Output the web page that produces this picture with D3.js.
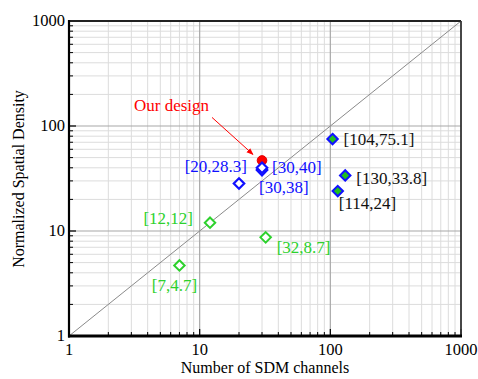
<!DOCTYPE html>
<html>
<head>
<meta charset="utf-8">
<script src="https://cdn.jsdelivr.net/npm/d3@7"></script>
<style>
  html, body { margin: 0; padding: 0; background: #fff; }
  svg { display: block; }
</style>
</head>
<body>
<svg id="chart" width="478" height="379" font-family="'Liberation Serif', 'Times New Roman', Times, 'DejaVu Serif', serif"></svg>
<script>
// Channel count (x) and normalized spatial density (y) for each design group
const openGreenX = [7, 12, 32];
const openGreenY = [4.7, 12, 8.7];
const openBlueX = [20, 30, 30];
const openBlueY = [28.3, 38, 40];
const filledX = [104, 130, 114];
const filledY = [75.1, 33.8, 24];
const oursX = [30];
const oursY = [47];
const oursLabel = "Our design";
const majorTicks = [1, 10, 100, 1000];
const xTitle = "Number of SDM channels";
const yTitle = "Normalized Spatial Density";

const svg = d3.select("#chart");
const plot = { left: 69, right: 461, top: 21, bottom: 336 };

const x = d3.scaleLog().domain([1, 1000]).range([plot.left, plot.right]);
const y = d3.scaleLog().domain([1, 1000]).range([plot.bottom, plot.top]);

// minor values 2..9 within each decade
const minors = [];
[1, 10, 100].forEach(d => { for (let k = 2; k <= 9; k++) minors.push(d * k); });

const grid = svg.append("g");
grid.selectAll("line.vmin").data(minors).join("line")
  .attr("x1", d => x(d)).attr("x2", d => x(d))
  .attr("y1", plot.top).attr("y2", plot.bottom)
  .attr("stroke", "#dcdcdc").attr("stroke-width", 1);
grid.selectAll("line.hmin").data(minors).join("line")
  .attr("y1", d => y(d)).attr("y2", d => y(d))
  .attr("x1", plot.left).attr("x2", plot.right)
  .attr("stroke", "#dcdcdc").attr("stroke-width", 1);
const inner = [10, 100];
grid.selectAll("line.vmaj").data(inner).join("line")
  .attr("x1", d => x(d)).attr("x2", d => x(d))
  .attr("y1", plot.top).attr("y2", plot.bottom)
  .attr("stroke", "#a8a8a8").attr("stroke-width", 1.2);
grid.selectAll("line.hmaj").data(inner).join("line")
  .attr("y1", d => y(d)).attr("y2", d => y(d))
  .attr("x1", plot.left).attr("x2", plot.right)
  .attr("stroke", "#a8a8a8").attr("stroke-width", 1.2);

// y = x reference line
svg.append("line")
  .attr("x1", x(1)).attr("y1", y(1))
  .attr("x2", x(1000)).attr("y2", y(1000))
  .attr("stroke", "#8a8a8a").attr("stroke-width", 1);

// inward ticks on the bottom and left axes
const ticks = svg.append("g");
ticks.selectAll("line.bt").data(minors).join("line")
  .attr("x1", d => x(d)).attr("x2", d => x(d))
  .attr("y1", plot.bottom).attr("y2", plot.bottom - 4)
  .attr("stroke", "#000").attr("stroke-width", 1);
ticks.selectAll("line.lt").data(minors).join("line")
  .attr("y1", d => y(d)).attr("y2", d => y(d))
  .attr("x1", plot.left).attr("x2", plot.left + 4)
  .attr("stroke", "#000").attr("stroke-width", 1);
ticks.selectAll("line.btM").data(majorTicks).join("line")
  .attr("x1", d => x(d)).attr("x2", d => x(d))
  .attr("y1", plot.bottom).attr("y2", plot.bottom - 7)
  .attr("stroke", "#000").attr("stroke-width", 1.2);
ticks.selectAll("line.ltM").data(majorTicks).join("line")
  .attr("y1", d => y(d)).attr("y2", d => y(d))
  .attr("x1", plot.left).attr("x2", plot.left + 7)
  .attr("stroke", "#000").attr("stroke-width", 1.2);

// frame
svg.append("line").attr("x1", plot.left).attr("x2", plot.right)
  .attr("y1", plot.top).attr("y2", plot.top)
  .attr("stroke", "#222").attr("stroke-width", 2);
svg.append("line").attr("x1", plot.right).attr("x2", plot.right)
  .attr("y1", plot.top).attr("y2", plot.bottom)
  .attr("stroke", "#333").attr("stroke-width", 1.8);
svg.append("line").attr("x1", plot.left).attr("x2", plot.left)
  .attr("y1", plot.top - 1).attr("y2", plot.bottom + 1.5)
  .attr("stroke", "#000").attr("stroke-width", 2.2);
svg.append("line").attr("x1", plot.left - 1).attr("x2", plot.right + 1)
  .attr("y1", plot.bottom).attr("y2", plot.bottom)
  .attr("stroke", "#000").attr("stroke-width", 3);

// tick labels
const fmt = d => String(d);
svg.selectAll("text.xl").data(majorTicks).join("text")
  .attr("x", d => x(d)).attr("y", plot.bottom + 19)
  .attr("text-anchor", "middle").attr("font-size", 16.5)
  .attr("fill", "#000").text(fmt);
svg.selectAll("text.yl").data(majorTicks).join("text")
  .attr("x", plot.left - 4).attr("y", d => y(d))
  .attr("dy", "0.33em")
  .attr("text-anchor", "end").attr("font-size", 16.5)
  .attr("fill", "#000").text(fmt);

// axis titles
svg.append("text")
  .attr("x", 265).attr("y", 373)
  .attr("text-anchor", "middle").attr("font-size", 16)
  .attr("fill", "#000").text(xTitle);
svg.append("text")
  .attr("transform", "translate(24,179) rotate(-90)")
  .attr("text-anchor", "middle").attr("font-size", 16)
  .attr("fill", "#000").text(yTitle);

// diamond marker
const diamond = d3.symbol().type(d3.symbolDiamond2).size(70);
const pts = (xs, ys) => xs.map((v, i) => ({ x: v, y: ys[i] }));
const lbl = d => `[${d.x},${d.y}]`;

// our design marker
const ours = pts(oursX, oursY);
svg.selectAll("circle.ours").data(ours).join("circle")
  .attr("cx", d => x(d.x)).attr("cy", d => y(d.y)).attr("r", 4.8)
  .attr("fill", "#ff0000").attr("stroke", "#e00000").attr("stroke-width", 1);

// green open diamonds
const gOpen = pts(openGreenX, openGreenY);
const gOff = [
  { dx: -5, dy: 20, a: "middle" },
  { dx: -17, dy: -4, a: "end" },
  { dx: 11, dy: 10, a: "start" }
];
svg.selectAll("path.go").data(gOpen).join("path")
  .attr("d", diamond)
  .attr("transform", d => `translate(${x(d.x)},${y(d.y)})`)
  .attr("fill", "#fff").attr("stroke", "#2dd12d").attr("stroke-width", 2);
svg.selectAll("text.go").data(gOpen).join("text")
  .attr("x", (d, i) => x(d.x) + gOff[i].dx)
  .attr("y", (d, i) => y(d.y) + gOff[i].dy)
  .attr("dy", "0.33em").attr("text-anchor", (d, i) => gOff[i].a)
  .attr("font-size", 17).attr("fill", "#2dd12d").text(lbl);

// blue open diamonds
const bOpen = pts(openBlueX, openBlueY);
const bOff = [
  { dx: 8, dy: -17, a: "end" },
  { dx: -3, dy: 17, a: "start" },
  { dx: 10, dy: 0, a: "start" }
];
svg.selectAll("path.bo").data(bOpen).join("path")
  .attr("d", diamond)
  .attr("transform", d => `translate(${x(d.x)},${y(d.y)})`)
  .attr("fill", "#fff").attr("stroke", "#1010ff").attr("stroke-width", 2.2);
svg.selectAll("text.bo").data(bOpen).join("text")
  .attr("x", (d, i) => x(d.x) + bOff[i].dx)
  .attr("y", (d, i) => y(d.y) + bOff[i].dy)
  .attr("dy", "0.33em").attr("text-anchor", (d, i) => bOff[i].a)
  .attr("font-size", 17).attr("fill", "#1010ff").text(lbl);

// filled diamonds
const filled = pts(filledX, filledY);
const fOff = [
  { dx: 11, dy: 0, a: "start" },
  { dx: 11, dy: 3, a: "start" },
  { dx: 1, dy: 12, a: "start" }
];
svg.selectAll("path.fd").data(filled).join("path")
  .attr("d", diamond)
  .attr("transform", d => `translate(${x(d.x)},${y(d.y)})`)
  .attr("fill", "#1fbf1f").attr("stroke", "#1010ff").attr("stroke-width", 2);
svg.selectAll("text.fd").data(filled).join("text")
  .attr("x", (d, i) => x(d.x) + fOff[i].dx)
  .attr("y", (d, i) => y(d.y) + fOff[i].dy)
  .attr("dy", "0.33em").attr("text-anchor", (d, i) => fOff[i].a)
  .attr("font-size", 17).attr("fill", "#111").text(lbl);

// annotation for our design
svg.append("defs").append("marker")
  .attr("id", "arrow").attr("viewBox", "0 0 10 10")
  .attr("refX", 9).attr("refY", 5)
  .attr("markerWidth", 7).attr("markerHeight", 7)
  .attr("orient", "auto")
  .append("path").attr("d", "M0,1 L10,5 L0,9 Z").attr("fill", "#ff0000");
const o = ours[0];
svg.append("text")
  .attr("x", x(o.x) - 128).attr("y", y(o.y) - 55)
  .attr("dy", "0.33em").attr("font-size", 17)
  .attr("fill", "#ff0000").text(oursLabel);
svg.append("line")
  .attr("x1", x(o.x) - 50).attr("y1", y(o.y) - 43)
  .attr("x2", x(o.x) - 9).attr("y2", y(o.y) - 6)
  .attr("stroke", "#ff0000").attr("stroke-width", 1)
  .attr("marker-end", "url(#arrow)");
</script>
</body>
</html>
